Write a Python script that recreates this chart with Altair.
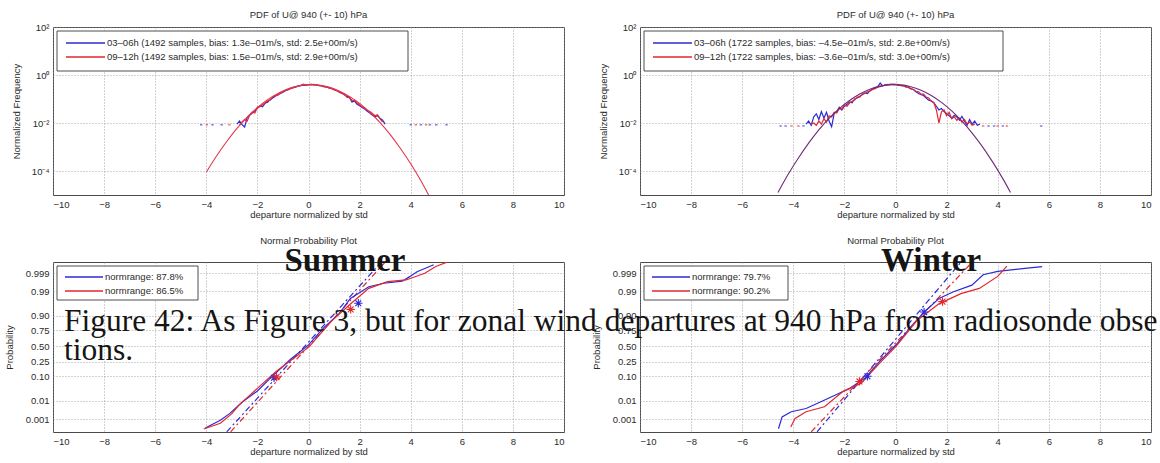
import altair as alt
import pandas as pd
from statistics import NormalDist

FONT = "Liberation Sans"
SERIF = "Liberation Serif"
INK = "#2b2b2b"
BLUE = "#2a2ad6"
RED = "#e3262e"
PURPLE = "#6e2c78"

X_TICKS = [-10, -8, -6, -4, -2, 0, 2, 4, 6, 8, 10]
X_TITLE = "departure normalized by std"

# ---------------- PDF panels (normalised histograms) ----------------
summer_bins = [-2.8, -2.7, -2.6, -2.5, -2.4, -2.3, -2.2, -2.1, -2.0, -1.9, -1.8, -1.7, -1.6, -1.5,
               -1.4, -1.3, -1.2, -1.1, -1.0, -0.9, -0.8, -0.7, -0.6, -0.5, -0.4, -0.3, -0.2, -0.1,
               0.0, 0.1, 0.2, 0.3, 0.4, 0.5, 0.6, 0.7, 0.8, 0.9, 1.0, 1.1, 1.2, 1.3, 1.4, 1.5, 1.6,
               1.7, 1.8, 1.9, 2.0, 2.1, 2.2, 2.3, 2.4, 2.5, 2.6, 2.7, 2.8, 2.9, 3.0]
summer_pdf_0306 = [0.009, 0.012, 0.0085, 0.0068, 0.017, 0.021, 0.026, 0.032, 0.041, 0.052, 0.047,
                   0.066, 0.074, 0.094, 0.11, 0.13, 0.15, 0.17, 0.19, 0.22, 0.25, 0.27, 0.30, 0.31,
                   0.35, 0.36, 0.38, 0.37, 0.40, 0.39, 0.41, 0.38, 0.37, 0.35, 0.34, 0.31, 0.30,
                   0.27, 0.25, 0.22, 0.20, 0.18, 0.15, 0.13, 0.12, 0.075, 0.082, 0.06, 0.052, 0.044,
                   0.038, 0.031, 0.026, 0.021, 0.018, 0.020, 0.016, 0.013, 0.009]
summer_pdf_0912 = [None, 0.008, 0.011, 0.014, 0.012, 0.022, 0.028, 0.026, 0.045, 0.048, 0.058, 0.07,
                   0.085, 0.09, 0.12, 0.14, 0.145, 0.18, 0.2, 0.23, 0.24, 0.28, 0.29, 0.33, 0.34,
                   0.37, 0.42, 0.38, 0.39, 0.42, 0.38, 0.40, 0.36, 0.36, 0.32, 0.33, 0.28, 0.28,
                   0.24, 0.23, 0.19, 0.17, 0.16, 0.12, 0.115, 0.09, 0.085, 0.07, 0.058, 0.047, 0.04,
                   0.034, 0.03, 0.025, 0.02, 0.022, 0.015, 0.011, None]
summer_fit_x = [-4.0, -3.6, -3.2, -2.8, -2.4, -2.0, -1.6, -1.2, -0.8, -0.4, 0.0, 0.4, 0.8, 1.2,
                1.6, 2.0, 2.4, 2.8, 3.2, 3.6, 4.0, 4.4, 4.7]
summer_fit_y = [8.9e-5, 4.2e-4, 1.7e-3, 6.0e-3, 0.0175, 0.044, 0.094, 0.171, 0.266, 0.352, 0.397,
                0.381, 0.313, 0.218, 0.129, 0.066, 0.028, 0.0104, 3.3e-3, 8.7e-4, 2.0e-4, 3.9e-5,
                1.0e-5]
summer_single_0306 = [-4.2, -3.76, -3.4, 4.0, 4.4, 4.75, 5.0, 5.4]
summer_single_0912 = [-3.98, -3.1, 4.2, 4.6]
summer_single_level = 0.0084

winter_bins = [-3.5, -3.4, -3.3, -3.2, -3.1, -3.0, -2.9, -2.8, -2.7, -2.6, -2.5, -2.4, -2.3, -2.2,
               -2.1, -2.0, -1.9, -1.8, -1.7, -1.6, -1.5, -1.4, -1.3, -1.2, -1.1, -1.0, -0.9, -0.8,
               -0.7, -0.6, -0.5, -0.4, -0.3, -0.2, -0.1, 0.0, 0.1, 0.2, 0.3, 0.4, 0.5, 0.6, 0.7,
               0.8, 0.9, 1.0, 1.1, 1.2, 1.3, 1.4, 1.5, 1.6, 1.7, 1.8, 1.9, 2.0, 2.1, 2.2, 2.3, 2.4,
               2.5, 2.6, 2.7, 2.8, 2.9, 3.0, 3.1, 3.2, 3.3]
winter_pdf_0306 = [0.009, 0.012, 0.008, 0.018, 0.024, 0.014, 0.03, 0.016, 0.028, 0.012, 0.007,
                   0.025, 0.03, 0.045, 0.035, 0.05, 0.06, 0.075, 0.07, 0.1, 0.11, 0.13, 0.15, 0.18,
                   0.17, 0.22, 0.25, 0.28, 0.32, 0.46, 0.35, 0.40, 0.38, 0.42, 0.40, 0.41, 0.38,
                   0.37, 0.35, 0.34, 0.30, 0.27, 0.25, 0.2, 0.17, 0.15, 0.14, 0.11, 0.09, 0.085,
                   0.07, 0.05, 0.035, 0.04, 0.03, 0.025, 0.02, 0.016, 0.021, 0.018, 0.013, 0.019,
                   0.012, 0.008, 0.014, 0.009, 0.012, 0.008, 0.009]
winter_pdf_0912 = [None, None, 0.009, 0.01, 0.008, 0.012, 0.009, 0.015, 0.011, 0.02, 0.018, 0.028,
                   0.026, 0.04, 0.038, 0.055, 0.05, 0.068, 0.08, 0.09, 0.12, 0.12, 0.16, 0.17, 0.2,
                   0.21, 0.26, 0.27, 0.31, 0.33, 0.36, 0.37, 0.41, 0.39, 0.42, 0.40, 0.41, 0.36,
                   0.37, 0.31, 0.31, 0.26, 0.25, 0.21, 0.2, 0.16, 0.16, 0.12, 0.11, 0.08, 0.07,
                   0.035, 0.01, 0.03, 0.035, 0.02, 0.028, 0.015, 0.018, 0.013, 0.016, 0.011, 0.014,
                   0.009, 0.011, 0.008, 0.009, None, None]
winter_fit_x = [-4.6, -4.2, -3.8, -3.4, -3.0, -2.6, -2.2, -1.8, -1.4, -1.0, -0.6, -0.2, 0.2, 0.6,
                1.0, 1.4, 1.8, 2.2, 2.6, 3.0, 3.4, 3.8, 4.2, 4.5]
winter_fit_y = [1.28e-5, 7.3e-5, 3.5e-4, 1.46e-3, 5.2e-3, 0.0155, 0.0396, 0.0863, 0.161, 0.255,
                0.344, 0.395, 0.387, 0.324, 0.230, 0.140, 0.072, 0.0318, 0.0119, 3.8e-3, 1.04e-3,
                2.4e-4, 4.8e-5, 1.28e-5]
winter_single_0306 = [-4.5, -4.3, -3.6, 3.64, 3.86, 4.2, 5.7]
winter_single_0912 = [-4.07, -3.8, 3.43, 4.0, 4.36]
winter_single_level = 0.0075

summer_pdf_labels = ["03–06h (1492 samples, bias: 1.3e–01m/s, std: 2.5e+00m/s)",
                     "09–12h (1492 samples, bias: 1.5e–01m/s, std: 2.9e+00m/s)"]
winter_pdf_labels = ["03–06h (1722 samples, bias: –4.5e–01m/s, std: 2.8e+00m/s)",
                     "09–12h (1722 samples, bias: –3.6e–01m/s, std: 3.0e+00m/s)"]

# ---------------- normal probability panels ----------------
summer_q_0306_x = [-4.04, -3.45, -3.09, -2.58, -2.0, -1.42, -0.69, 0.0, 0.62, 1.2, 1.64, 2.36,
                   2.95, 3.67, 3.96, 4.25, 4.9]
summer_q_0306_p = [0.00026, 0.00084, 0.0021, 0.0091, 0.0287, 0.100, 0.291, 0.52, 0.788, 0.915,
                   0.978, 0.994, 0.9961, 0.9970, 0.99836, 0.99918, 0.99971]
summer_q_0912_x = [-4.1, -3.45, -3.0, -2.73, -2.0, -1.27, 0.03, 0.9, 1.64, 2.36, 3.09, 3.82, 4.55,
                   4.98, 5.42]
summer_q_0912_p = [0.00022, 0.00054, 0.0021, 0.006, 0.0367, 0.14, 0.49, 0.855, 0.9625, 0.9927,
                   0.99683, 0.99744, 0.99897, 0.99962, 0.99981]
summer_ref_0306_x = [-3.2, 2.85]
summer_ref_0912_x = [-3.05, 3.0]
summer_star_0306_x = [-1.35, 1.95]
summer_star_0306_p = [0.09, 0.965]
summer_star_0912_x = [-1.25, 1.65]
summer_star_0912_p = [0.095, 0.94]

winter_q_0306_x = [-4.58, -4.44, -4.08, -3.5, -2.92, -2.35, -1.77, -1.19, -0.61, 0.04, 0.69, 1.12,
                   1.70, 2.27, 2.99, 3.43, 4.0, 5.16, 5.74]
winter_q_0306_p = [0.00023, 0.00135, 0.0027, 0.0041, 0.0091, 0.0192, 0.0375, 0.0885, 0.261, 0.53,
                   0.824, 0.925, 0.978, 0.9893, 0.99506, 0.99874, 0.99921, 0.99952, 0.99962]
winter_q_0912_x = [-4.1, -3.93, -3.5, -2.78, -2.06, -1.34, -0.61, 0.03, 0.83, 1.70, 2.56, 3.28,
                   4.0, 4.36]
winter_q_0912_p = [0.0003, 0.00107, 0.0027, 0.0051, 0.0268, 0.058, 0.239, 0.5, 0.858, 0.963,
                   0.9868, 0.9927, 0.99841, 0.99964]
winter_ref_0306_x = [-3.07, 2.56]
winter_ref_0912_x = [-3.3, 3.0]
winter_star_0306_x = [-1.1, 1.12]
winter_star_0306_p = [0.10, 0.925]
winter_star_0912_x = [-1.41, 1.84]
winter_star_0912_p = [0.067, 0.97]

ref_line_p = [0.00014, 0.99981]

summer_np_labels = ["normrange: 87.8%", "normrange: 86.5%"]
winter_np_labels = ["normrange: 79.7%", "normrange: 90.2%"]

PROB_TICKS = [0.001, 0.01, 0.10, 0.25, 0.50, 0.75, 0.90, 0.99, 0.999]
PROB_LABELS = ["0.001", "0.01", "0.10", "0.25", "0.50", "0.75", "0.90", "0.99", "0.999"]

CAPTION_1 = "Figure 42: As Figure 3, but for zonal wind departures at 940 hPa from radiosonde obse"
CAPTION_2 = "tions."

W, H_TOP, H_BOT = 511, 168, 170
Z_DOMAIN = [-3.64, 3.56]
CAPTION_X = 63          # left edge of the caption, page pixels
BOTTOM_RIGHT_X = 639    # left edge of the lower-right plot, page pixels

std_normal = NormalDist()
z_ticks = [std_normal.inv_cdf(p) for p in PROB_TICKS]
prob_label_expr = "".join(
    f"abs(datum.value - ({z:.4f})) < 0.01 ? '{lab}' : " for z, lab in zip(z_ticks, PROB_LABELS)
) + "''"

x_enc = alt.X("x:Q", scale=alt.Scale(domain=[-10, 10], nice=False, zero=False),
              axis=alt.Axis(values=X_TICKS, format="d", title=X_TITLE))
y_pdf = alt.Y("y:Q", scale=alt.Scale(type="log", domain=[1e-5, 1e2], nice=False),
              axis=alt.Axis(values=[1e-4, 1e-2, 1, 1e2], title="Normalized Frequency",
                            labelExpr="datum.value > 10 ? '10²' : datum.value > 0.1 ? '10⁰' : "
                                      "datum.value > 0.001 ? '10⁻²' : '10⁻⁴'",
                            titleX=-37, titleBaseline="middle"))
y_prob = alt.Y("z:Q", scale=alt.Scale(domain=Z_DOMAIN, nice=False, zero=False),
               axis=alt.Axis(values=z_ticks, labelExpr=prob_label_expr, title="Probability",
                             titleX=-44, titleBaseline="middle"))

ONE = alt.Data(values=[{"k": 0}])


def legend(labels, box_w, box_h, rows, line_x, text_x):
    layers = [alt.Chart(ONE).mark_rect(fill="white", stroke="#3a3a3a", strokeWidth=0.9).encode(
        x=alt.value(4), x2=alt.value(4 + box_w), y=alt.value(4), y2=alt.value(4 + box_h))]
    for lab, color, ry in zip(labels, [BLUE, RED], rows):
        layers.append(alt.Chart(ONE).mark_rule(color=color, strokeWidth=1.3).encode(
            x=alt.value(line_x[0]), x2=alt.value(line_x[1]), y=alt.value(ry)))
        layers.append(alt.Chart(ONE).mark_text(
            text=lab, align="left", baseline="middle", font=FONT, fontSize=9.5, color=INK
        ).encode(x=alt.value(text_x), y=alt.value(ry)))
    return layers


def panel_title(text, y):
    return alt.Chart(ONE).mark_text(
        text=text, align="center", baseline="middle", font=FONT, fontSize=9.5, color=INK
    ).encode(x=alt.value(W / 2), y=alt.value(y))


def pdf_panel(bins, pdf_a, pdf_b, fit_x, fit_y, fit_color, single_a, single_b, level, labels, box_w):
    def series(vals):
        return pd.DataFrame([{"x": x, "y": v} for x, v in zip(bins, vals) if v is not None])

    dots = pd.DataFrame([{"x": x, "y": level, "s": "a"} for x in single_a] +
                        [{"x": x, "y": level, "s": "b"} for x in single_b])
    line_a = alt.Chart(series(pdf_a)).mark_line(color=BLUE, strokeWidth=1.2, clip=True).encode(x=x_enc, y=y_pdf)
    line_b = alt.Chart(series(pdf_b)).mark_line(color=RED, strokeWidth=1.2, clip=True).encode(x=x_enc, y=y_pdf)
    fit = alt.Chart(pd.DataFrame({"x": fit_x, "y": fit_y})).mark_line(
        color=fit_color, strokeWidth=1.1, clip=True, interpolate="monotone").encode(x=x_enc, y=y_pdf)
    pts = alt.Chart(dots).mark_point(shape="M-1,0L1,0", size=6, strokeWidth=1.3, filled=False).encode(
        x=x_enc, y=y_pdf,
        color=alt.Color("s:N", scale=alt.Scale(domain=["a", "b"], range=[BLUE, RED]), legend=None))
    layers = [line_a, line_b, fit, pts] + legend(labels, box_w, 40, [16, 30], [13, 52], 54)
    layers.append(panel_title("PDF of U@ 940 (+- 10) hPa", -12))
    return alt.layer(*layers).properties(width=W, height=H_TOP)


def prob_panel(qa_x, qa_p, qb_x, qb_p, ref_a_x, ref_b_x, sa_x, sa_p, sb_x, sb_p, labels, box_w, extra):
    def frame(xs, ps):
        return pd.DataFrame({"x": xs, "p": ps})

    def q_line(xs, ps, color):
        return alt.Chart(frame(xs, ps)).transform_calculate(z="quantileNormal(datum.p)").mark_line(
            color=color, strokeWidth=1.2, clip=True).encode(x=x_enc, y=y_prob)

    def ref_line(xs, color):
        return alt.Chart(frame(xs, ref_line_p)).transform_calculate(z="quantileNormal(datum.p)").mark_line(
            color=color, strokeWidth=1.2, strokeDash=[6, 3, 2, 3], clip=True).encode(x=x_enc, y=y_prob)

    def stars(xs, ps, color):
        return alt.Chart(frame(xs, ps)).transform_calculate(z="quantileNormal(datum.p)").mark_point(
            shape="M-1,0L1,0M0,-1L0,1M-0.7,-0.7L0.7,0.7M-0.7,0.7L0.7,-0.7",
            size=70, strokeWidth=1.1, filled=False, color=color, opacity=1).encode(x=x_enc, y=y_prob)

    layers = [ref_line(ref_a_x, BLUE), ref_line(ref_b_x, RED),
              q_line(qa_x, qa_p, BLUE), q_line(qb_x, qb_p, RED),
              stars(sa_x, sa_p, BLUE), stars(sb_x, sb_p, RED)]
    layers += legend(labels, box_w, 34, [15, 29], [12, 50], 52)
    layers.append(panel_title("Normal Probability Plot", -21))
    layers += extra
    return alt.layer(*layers).properties(width=W, height=H_BOT)


def big_text(text, x, y, size, weight="normal", align="left"):
    return alt.Chart(ONE).mark_text(
        text=text, align=align, baseline="alphabetic", font=SERIF, fontSize=size,
        fontWeight=weight, color="#151515", limit=1159 - CAPTION_X, ellipsis=""
    ).encode(x=alt.value(x), y=alt.value(y))


top_left = pdf_panel(summer_bins, summer_pdf_0306, summer_pdf_0912, summer_fit_x, summer_fit_y,
                     "#e2384a", summer_single_0306, summer_single_0912, summer_single_level,
                     summer_pdf_labels, 351)
top_right = pdf_panel(winter_bins, winter_pdf_0306, winter_pdf_0912, winter_fit_x, winter_fit_y,
                      PURPLE, winter_single_0306, winter_single_0912, winter_single_level,
                      winter_pdf_labels, 359)

bottom_left = prob_panel(summer_q_0306_x, summer_q_0306_p, summer_q_0912_x, summer_q_0912_p,
                         summer_ref_0306_x, summer_ref_0912_x,
                         summer_star_0306_x, summer_star_0306_p, summer_star_0912_x, summer_star_0912_p,
                         summer_np_labels, 141, [])

# season headings and the page caption sit above both lower panels
cap_dx = CAPTION_X - BOTTOM_RIGHT_X
captions = [
    big_text("Summer", 344 - BOTTOM_RIGHT_X, 8.5, 33, "bold", "center"),
    big_text("Winter", 930 - BOTTOM_RIGHT_X, 8.5, 33, "bold", "center"),
    big_text(CAPTION_1, cap_dx, 68.5, 31.5),
    big_text(CAPTION_2, cap_dx, 97.5, 31.5),
]
bottom_right = prob_panel(winter_q_0306_x, winter_q_0306_p, winter_q_0912_x, winter_q_0912_p,
                          winter_ref_0306_x, winter_ref_0912_x,
                          winter_star_0306_x, winter_star_0306_p, winter_star_0912_x, winter_star_0912_p,
                          winter_np_labels, 144, captions)

chart = alt.concat(
    top_left, top_right, bottom_left, bottom_right,
    columns=2, spacing={"row": 67, "column": 76}, bounds="flush",
    padding={"left": 3, "top": 9, "right": 0, "bottom": 0},
).configure_view(stroke="#4a4a4a", strokeWidth=1).configure_axis(
    domain=False, ticks=False, tickSize=0, grid=True, gridDash=[1, 2], gridColor="#8f8f8f",
    gridWidth=0.8, labelFont=FONT, labelFontSize=9.5, labelColor=INK, labelPadding=4,
    titleFont=FONT, titleFontSize=9.5, titleFontWeight="normal", titleColor=INK, titlePadding=1,
)

chart.save("out.html", embed_options={"renderer": "svg", "actions": False})
